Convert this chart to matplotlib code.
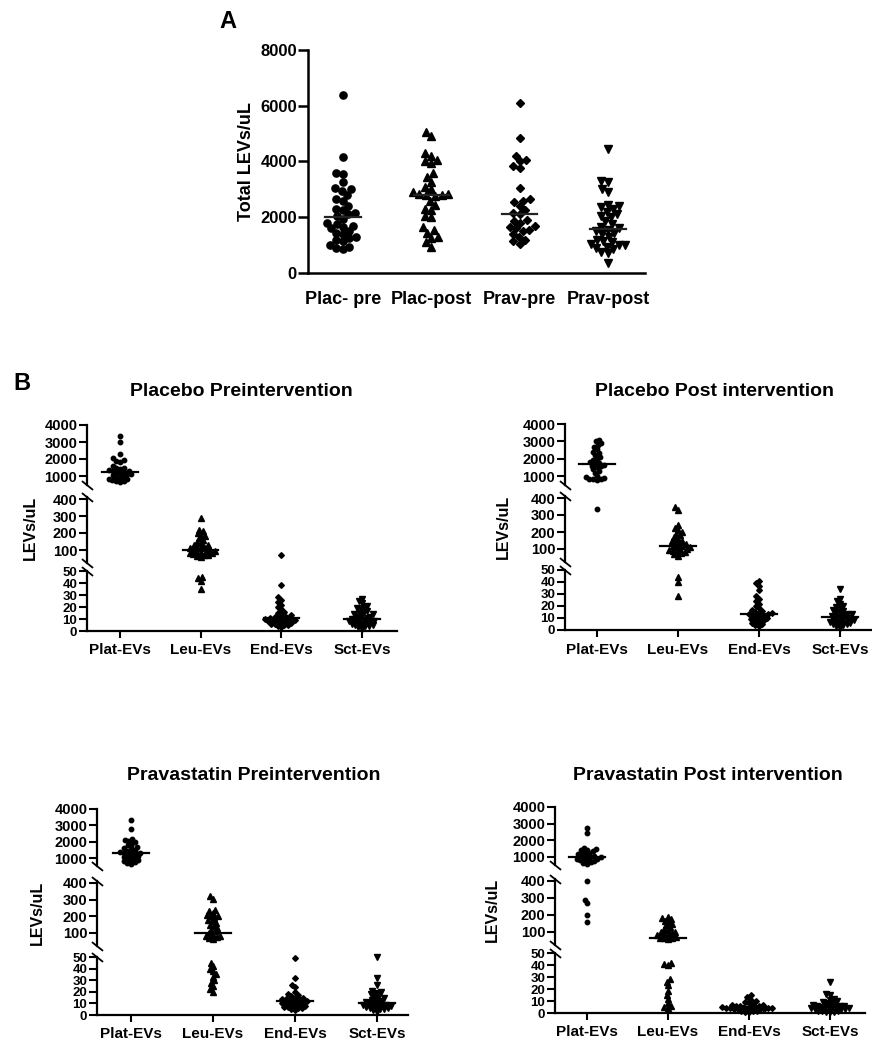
import numpy as np
import matplotlib
matplotlib.use('Agg')
import matplotlib.pyplot as plt

plt.rcParams['font.family'] = ['Liberation Sans', 'DejaVu Sans']
plt.rcParams['font.weight'] = 'bold'

# ---------------- data (panel A) ----------------
a_categories = ["Plac- pre", "Plac-post", "Prav-pre", "Prav-post"]
a_plac_pre = [6400, 4150, 3600, 3550, 3250, 3050, 3000, 2950, 2800, 2650, 2600, 2400,
              2300, 2250, 2150, 2100, 2050, 1950, 1800, 1750, 1700, 1650, 1600, 1500,
              1450, 1400, 1300, 1250, 1200, 1150, 1000, 950, 900, 850]
a_plac_post = [5070, 4900, 4300, 4200, 4050, 4000, 3950, 3600, 3450, 3250, 3100, 3000,
               2900, 2850, 2850, 2800, 2800, 2750, 2600, 2450, 2300, 2250, 2050, 2000,
               1650, 1550, 1450, 1300, 1250, 1100, 950]
a_prav_pre = [6100, 4850, 4200, 4050, 4000, 3850, 3750, 3050, 2650, 2600, 2550, 2400,
              2250, 2150, 2100, 1900, 1850, 1800, 1700, 1650, 1600, 1550, 1500, 1400,
              1300, 1200, 1150, 1050]
a_prav_post = [4450, 3300, 3250, 3000, 2900, 2450, 2400, 2350, 2300, 2200, 2100, 2050,
               2000, 1850, 1750, 1650, 1600, 1550, 1500, 1450, 1400, 1300, 1200, 1150,
               1100, 1050, 1000, 1000, 950, 900, 850, 750, 700, 350]
a_yticks = [0, 2000, 4000, 6000, 8000]

# ---------------- data (panel B) ----------------
b_categories = ["Plat-EVs", "Leu-EVs", "End-EVs", "Sct-EVs"]
b_titles = ["Placebo Preintervention", "Placebo Post intervention",
            "Pravastatin Preintervention", "Pravastatin Post intervention"]

b1_plat = [3350, 3000, 2300, 2050, 1950, 1900, 1850, 1600, 1500, 1450, 1400, 1350, 1300,
           1300, 1250, 1200, 1150, 1100, 1100, 1050, 1000, 950, 900, 850, 800, 750, 700,
           700, 650]
b1_leu = [290, 220, 210, 200, 190, 180, 170, 160, 150, 140, 130, 130, 120, 120, 110, 110,
          100, 100, 95, 90, 90, 85, 80, 80, 75, 70, 70, 65, 60, 45, 44, 42, 35]
b1_end = [70, 38, 28, 26, 24, 22, 20, 18, 16, 15, 14, 13, 12, 12, 11, 11, 10, 10, 10, 9,
          9, 8, 8, 8, 7, 7, 6, 6, 5, 5, 4, 3]
b1_sct = [27, 25, 23, 21, 20, 19, 18, 17, 16, 15, 14, 14, 13, 12, 12, 11, 10, 10, 9, 9,
          8, 8, 8, 7, 7, 6, 6, 5, 5, 4, 4, 3, 2]

b2_plat = [3100, 3000, 2900, 2800, 2700, 2550, 2400, 2300, 2200, 2100, 2000, 1900, 1800,
           1750, 1700, 1650, 1600, 1550, 1500, 1400, 1300, 1200, 1000, 950, 900, 850, 800,
           800, 750, 335]
b2_leu = [345, 330, 240, 225, 210, 200, 190, 180, 170, 160, 150, 145, 140, 130, 130, 120,
          120, 110, 110, 100, 100, 95, 90, 85, 80, 75, 70, 60, 44, 40, 28]
b2_end = [41, 39, 37, 33, 28, 26, 24, 22, 20, 18, 17, 16, 15, 14, 14, 13, 13, 12, 12, 11,
          10, 10, 9, 8, 8, 7, 6, 5, 4, 3]
b2_sct = [34, 26, 24, 22, 20, 19, 18, 17, 16, 15, 14, 13, 13, 12, 12, 11, 10, 10, 9, 9,
          8, 8, 7, 7, 6, 6, 5, 5, 4, 3, 2]

b3_plat = [3350, 2800, 2150, 2100, 2050, 2000, 1900, 1800, 1700, 1650, 1600, 1500, 1450,
           1400, 1350, 1300, 1300, 1250, 1200, 1150, 1100, 1050, 1000, 950, 900, 850, 800,
           750, 700, 650]
b3_leu = [320, 305, 240, 230, 220, 210, 200, 200, 190, 180, 170, 160, 150, 140, 130, 120,
          110, 100, 90, 85, 80, 75, 70, 65, 45, 42, 40, 38, 35, 33, 30, 28, 25, 22, 20]
b3_end = [49, 32, 26, 24, 20, 18, 17, 16, 15, 15, 14, 14, 13, 13, 12, 12, 11, 11, 10, 10,
          9, 9, 8, 8, 7, 7, 6, 6, 5, 4]
b3_sct = [50, 32, 26, 21, 20, 19, 18, 17, 16, 15, 14, 13, 12, 11, 11, 10, 10, 9, 9, 8,
          8, 8, 7, 7, 6, 6, 5, 5, 4, 3]

b4_plat = [2750, 2450, 1550, 1500, 1450, 1400, 1350, 1300, 1250, 1200, 1150, 1100, 1050,
           1000, 1000, 950, 900, 900, 850, 800, 750, 700, 650, 600, 400, 290, 270, 200, 160]
b4_leu = [190, 180, 175, 165, 160, 150, 140, 130, 120, 110, 100, 100, 95, 90, 85, 80, 70,
          65, 63, 62, 60, 42, 41, 40, 28, 26, 23, 18, 15, 12, 8, 6, 5, 4]
b4_end = [15, 13, 11, 10, 9, 8, 8, 7, 7, 6, 6, 6, 5, 5, 5, 5, 4, 4, 4, 4, 4, 3, 3, 3, 3,
          2, 2, 2, 1, 1]
b4_sct = [26, 16, 15, 12, 11, 10, 9, 8, 8, 7, 7, 6, 6, 6, 5, 5, 5, 4, 4, 4, 4, 3, 3, 3,
          2, 2, 2, 1, 1, 1]

b_top_ticks = [1000, 2000, 3000, 4000]
b_mid_ticks = [100, 200, 300, 400]
b_bot_ticks = [0, 10, 20, 30, 40, 50]

# ---------------- helpers ----------------
W, H = 872, 1041
fig = plt.figure(figsize=(W / 100, H / 100), dpi=100)


def rect(left, top, right, bottom):
    return [left / W, 1 - bottom / H, (right - left) / W, (bottom - top) / H]


def swarm(ypix, d):
    ypix = np.asarray(ypix, float)
    order = np.argsort(ypix)
    xs = np.zeros(len(ypix))
    placed = []
    for i in order:
        y = ypix[i]
        neigh = [(xs[j], ypix[j]) for j in placed if abs(ypix[j] - y) < d]
        cands = [0.0]
        for xn, yn in neigh:
            dx = np.sqrt(max(d * d - (yn - y) ** 2, 0))
            cands += [xn + dx, xn - dx]
        cands.sort(key=lambda c: (abs(c), c))
        for c in cands:
            if all((c - xn) ** 2 + (y - yn) ** 2 >= d * d - 1e-6 for xn, yn in neigh):
                xs[i] = c
                break
        placed.append(i)
    return xs


def style_axis(ax, lw=1.6):
    for s in ['top', 'right']:
        ax.spines[s].set_visible(False)
    for s in ['left', 'bottom']:
        ax.spines[s].set_linewidth(lw)
    ax.patch.set_alpha(0)


# ---------------- Panel A ----------------
axA = fig.add_axes(rect(308, 50, 645, 273))
axA.set_ylim(0, 8000)
axA.set_xlim(-0.396, 3.42)
style_axis(axA, 1.8)
axA.set_yticks(a_yticks)
axA.set_yticklabels([str(t) for t in a_yticks], fontsize=12, fontweight='bold')
axA.tick_params(axis='y', length=7, width=1.8, pad=1)
axA.set_xticks(range(4))
axA.set_xticklabels(a_categories, fontsize=13, fontweight='bold')
axA.tick_params(axis='x', length=0, pad=13)
axA.set_ylabel("Total LEVs/uL", fontsize=13, fontweight='bold', labelpad=4)

a_series = [a_plac_pre, a_plac_post, a_prav_pre, a_prav_post]
a_markers = [('o', 5.2), ('^', 5.6), ('D', 3.8), ('v', 5.6)]
ppu_a = (645 - 308) / (3.42 + 0.396)
for i, (vals, (mk, ms)) in enumerate(zip(a_series, a_markers)):
    ypx = axA.transData.transform(np.column_stack([np.zeros(len(vals)), vals]))[:, 1]
    offs = swarm(ypx, 6.8) / ppu_a
    axA.plot(i + offs, vals, linestyle='none', marker=mk, ms=ms, color='black',
             clip_on=False, zorder=3)
    m = np.median(vals)
    axA.plot([i - 0.2, i + 0.2], [m, m], color='#222222', lw=1.6, zorder=4)

fig.text(228 / W, 1 - 22 / H, "A", fontsize=17, fontweight='bold', ha='center', va='center')
fig.text(22 / W, 1 - 383 / H, "B", fontsize=17, fontweight='bold', ha='center', va='center')

# ---------------- Panel B ----------------
top_lim = (500, 4000)
mid_lim = (25, 410)
bot_lim = (0, 50)


def seg_pixels(v1, p1, v2, p2, lim):
    ppu = (p2 - p1) / (v1 - v2)
    top = p1 - (lim[1] - v1) * ppu
    bot = p2 + (v2 - lim[0]) * ppu
    return top, bot


panels = [
    dict(data=[b1_plat, b1_leu, b1_end, b1_sct], left=87, cat0=120, sp=80.7, right=397,
         top=(425, 476), mid=(499, 550), bot=(571, 631), title=(241, 392), ylab=(30, 528)),
    dict(data=[b2_plat, b2_leu, b2_end, b2_sct], left=565, cat0=597, sp=81, right=872,
         top=(424, 476), mid=(498, 549), bot=(570, 630), title=(714, 392), ylab=(503, 527)),
    dict(data=[b3_plat, b3_leu, b3_end, b3_sct], left=97, cat0=131, sp=82, right=408,
         top=(809, 858), mid=(883, 933), bot=(957, 1015), title=(254, 775), ylab=(37, 913)),
    dict(data=[b4_plat, b4_leu, b4_end, b4_sct], left=555, cat0=587, sp=81, right=865,
         top=(807, 857), mid=(881, 932), bot=(953, 1013), title=(708, 775), ylab=(492, 910)),
]
b_markers = [('o', 3.2), ('^', 4.2), ('D', 2.9), ('v', 4.2)]

for k, P in enumerate(panels):
    xl = ((P['left'] - P['cat0']) / P['sp'], (P['right'] - P['cat0']) / P['sp'])
    t0, t1 = seg_pixels(4000, P['top'][0], 1000, P['top'][1], top_lim)
    m0, m1 = seg_pixels(400, P['mid'][0], 100, P['mid'][1], mid_lim)
    b0, b1 = seg_pixels(50, P['bot'][0], 0, P['bot'][1], bot_lim)
    axT = fig.add_axes(rect(P['left'], t0, P['right'], t1))
    axM = fig.add_axes(rect(P['left'], m0, P['right'], m1))
    axB = fig.add_axes(rect(P['left'], b0, P['right'], b1))
    for ax, lim, ticks, fs in [(axT, top_lim, b_top_ticks, 10.5),
                               (axM, mid_lim, b_mid_ticks, 10.5),
                               (axB, bot_lim, b_bot_ticks, 9.5)]:
        ax.set_xlim(*xl)
        ax.set_ylim(*lim)
        style_axis(ax, 1.6)
        ax.set_yticks(ticks)
        ax.set_yticklabels([str(t) for t in ticks], fontsize=fs, fontweight='bold')
        ax.tick_params(axis='y', length=6, width=1.5, pad=1)
    for ax in (axT, axM):
        ax.spines['bottom'].set_visible(False)
        ax.set_xticks([])
    axB.set_xticks(range(4))
    axB.set_xticklabels(b_categories, fontsize=11, fontweight='bold')
    axB.tick_params(axis='x', length=5, width=1.5, pad=4)

    # break marks
    kw = dict(marker=[(-1, 0.8), (1, -0.8)], markersize=8, linestyle='none',
              color='k', mec='k', mew=1.3, clip_on=False)
    axT.plot([0], [0], transform=axT.transAxes, **kw)
    axM.plot([0, 0], [0, 1], transform=axM.transAxes, **kw)
    axB.plot([0], [1], transform=axB.transAxes, **kw)

    ppu = (P['right'] - P['left']) / (xl[1] - xl[0])
    for i, (vals, (mk, ms)) in enumerate(zip(P['data'], b_markers)):
        vals = np.asarray(vals, float)
        axes_for = []
        ypx = np.zeros(len(vals))
        for j, v in enumerate(vals):
            ax = axT if v >= 450 else (axM if v > 50 else axB)
            axes_for.append(ax)
            ypx[j] = ax.transData.transform((0, v))[1]
        offs = swarm(ypx, 3.9) / ppu
        for ax in (axT, axM, axB):
            sel = [j for j in range(len(vals)) if axes_for[j] is ax]
            if sel:
                ax.plot(i + offs[sel], vals[sel], linestyle='none', marker=mk, ms=ms,
                        color='black', clip_on=False, zorder=3)
        m = np.median(vals)
        axm = axT if m >= 450 else (axM if m > 50 else axB)
        axm.plot([i - 0.22, i + 0.22], [m, m], color='black', lw=1.6, zorder=4,
                 clip_on=False)

    fig.text(P['title'][0] / W, 1 - P['title'][1] / H, b_titles[k], fontsize=14,
             fontweight='bold', ha='center', va='center')
    fig.text(P['ylab'][0] / W, 1 - P['ylab'][1] / H, "LEVs/uL", fontsize=11.5,
             fontweight='bold', ha='center', va='center', rotation=90)

fig.savefig("out.png", dpi=100, facecolor='white')
